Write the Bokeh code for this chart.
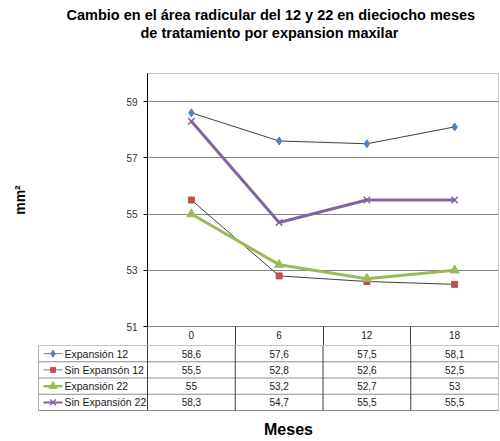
from bokeh.plotting import figure
from bokeh.models import Range1d, FixedTicker, Title
from bokeh.layouts import column
from bokeh.embed import file_html
from bokeh.resources import INLINE
from bokeh.core.properties import value

# ---------------- data ----------------
months = ["0", "6", "12", "18"]
series_names = ["Expansión 12", "Sin Expansón 12", "Expansión 22", "Sin Expansión 22"]
exp12 = [58.6, 57.6, 57.5, 58.1]
sin_exp12 = [55.5, 52.8, 52.6, 52.5]
exp22 = [55.0, 53.2, 52.7, 53.0]
sin_exp22 = [58.3, 54.7, 55.5, 55.5]
y_ticks = [51, 53, 55, 57, 59]
title_1 = "Cambio en el área radicular del 12 y 22 en dieciocho meses"
title_2 = "de tratamiento por expansion maxilar"
y_label = "mm²"
x_label = "Meses"

series = [exp12, sin_exp12, exp22, sin_exp22]
styles = [
    dict(line="#404040", lw=1, lw_leg=1, marker="diamond", color="#4F81BD", size=8, mlw=1),
    dict(line="#404040", lw=1, lw_leg=1, marker="square", color="#C0504D", size=6, mlw=1),
    dict(line="#9BBB59", lw=3, lw_leg=2.5, marker="triangle", color="#9BBB59", size=9, mlw=1),
    dict(line="#8064A2", lw=3, lw_leg=2, marker="x", color="#8064A2", size=9, mlw=1.5),
]

FONT = "Liberation Sans"
W = 499
BORDER_L = 147
BORDER_R = 1
n = len(months)
COL_W = (W - BORDER_L - BORDER_R) / n
H_TOP = 345
H_TAB = 95
ROW_H = 16.25
HEADER_H = 19
xpos = list(range(n))   # category positions on the x scale

# ---------------- chart ----------------
p = figure(width=W, height=H_TOP, x_range=Range1d(-0.5, n - 0.5),
           y_range=Range1d(51, 60),
           output_backend="svg", toolbar_location=None,
           min_border_left=BORDER_L, min_border_right=BORDER_R,
           min_border_top=73, min_border_bottom=HEADER_H)
p.background_fill_color = "white"
p.border_fill_color = "white"
p.outline_line_color = "#C8C8C8"

yax = p.yaxis[0]
yax.ticker = FixedTicker(ticks=y_ticks)
yax.axis_line_color = "black"
yax.major_tick_line_color = "black"
yax.major_tick_out = 4
yax.major_tick_in = 0
yax.minor_tick_line_color = None
yax.major_label_standoff = 6
yax.major_label_text_font = FONT
yax.major_label_text_font_size = "10px"
yax.major_label_text_color = "#333333"
yax.axis_label = y_label
yax.axis_label_text_font = FONT
yax.axis_label_text_font_size = "14px"
yax.axis_label_text_font_style = "bold"
yax.axis_label_text_color = "black"
yax.axis_label_standoff = 95

# category axis: labels at centres, separators (minor ticks) at boundaries
xax = p.xaxis[0]
xax.ticker = FixedTicker(ticks=xpos, minor_ticks=[i - 0.5 for i in xpos])
xax.major_label_overrides = {i: m for i, m in zip(xpos, months)}
xax.major_tick_out = 0
xax.major_tick_in = 0
xax.major_tick_line_color = None
xax.minor_tick_out = HEADER_H
xax.minor_tick_in = 0
xax.minor_tick_line_color = "#404040"
xax.axis_line_color = "#868686"
xax.major_label_standoff = -15
xax.major_label_text_font = FONT
xax.major_label_text_font_size = "10px"
xax.major_label_text_color = "#1A1A1A"

p.ygrid.grid_line_color = "#868686"
p.xgrid.grid_line_color = None

for vals, st in zip(series, styles):
    p.line(xpos, vals, line_color=st["line"], line_width=st["lw"])
    p.scatter(xpos, vals, marker=st["marker"], size=st["size"],
              fill_color=st["color"], line_color=st["color"], line_width=st["mlw"])

# titles (first added sits closest to the frame)
p.add_layout(Title(text=" ", text_font_size="10px", standoff=18), "above")
p.add_layout(Title(text=title_2, align="left", offset=-7, vertical_align="top",
                   standoff=0, text_font=FONT, text_font_size="14.5px",
                   text_font_style="bold", text_color="black"), "above")
p.add_layout(Title(text=title_1, align="left", offset=-81, vertical_align="top",
                   standoff=0, text_font=FONT, text_font_size="14.5px",
                   text_font_style="bold", text_color="black"), "above")

# ---------------- data table ----------------
L = (147 - 38) / COL_W
x_left = -0.5          # left edge of the value columns
tb = figure(width=W, height=H_TAB,
            x_range=Range1d(x_left - BORDER_L / COL_W, n - 0.5 + BORDER_R / COL_W),
            y_range=Range1d(1 + H_TAB / ROW_H, 1),
            x_axis_location=None, y_axis_location=None,
            output_backend="svg", toolbar_location=None,
            min_border_left=0, min_border_right=0, min_border_top=0, min_border_bottom=0)
tb.grid.visible = False
tb.outline_line_color = None
tb.background_fill_color = "white"
tb.border_fill_color = "white"

for fig in (p, tb):
    if "frame_align" in fig.properties():
        fig.frame_align = False

rows = list(range(1, len(series) + 1))
bottom = len(series) + 1
hy = rows + [bottom]
tb.segment(x0=[x_left - L] * len(hy), y0=hy, x1=[n - 0.5] * len(hy), y1=hy,
           line_color="#8C8C8C", line_width=1)
tb.segment(x0=[x_left - L], y0=[1], x1=[x_left - L], y1=[bottom], line_color="#B0B0B0")
bx = [i - 0.5 for i in xpos]
tb.segment(x0=bx, y0=[1] * n, x1=bx, y1=[bottom] * n, line_color="#404040")
tb.segment(x0=[n - 0.5], y0=[1], x1=[n - 0.5], y1=[bottom], line_color="#C0C0C0")

sx0 = x_left + (43 - 147) / COL_W
sx1 = x_left + (62 - 147) / COL_W
tx = x_left + (64 - 147) / COL_W
for r, name, vals, st in zip(rows, series_names, series, styles):
    yc = r + 0.5
    tb.line([sx0, sx1], [yc, yc], line_color=st["line"] if st["lw"] > 1 else "#7F7F7F",
            line_width=st["lw_leg"])
    tb.scatter([(sx0 + sx1) / 2], [yc], marker=st["marker"], size=st["size"] - 1,
               fill_color=st["color"], line_color=st["color"], line_width=st["mlw"])
    tb.text(x=[tx], y=[yc], text=[name], text_font=value(FONT), text_font_size="10.5px",
            text_align="left", text_baseline="middle", text_color="#1A1A1A")
    labels = [f"{v:g}".replace(".", ",") for v in vals]
    tb.text(x=xpos, y=[yc] * n, text=labels,
            text_font=value(FONT), text_font_size="10px", text_align="center",
            text_baseline="middle", text_color="#1A1A1A")

tb.text(x=[x_left + (288 - 147) / COL_W], y=[bottom + 18.5 / ROW_H], text=[x_label],
        text_font=value(FONT), text_font_size="16px", text_font_style="bold",
        text_align="center", text_baseline="middle", text_color="black")

layout = column(p, tb, spacing=0)
open("out.html", "w").write(file_html(layout, INLINE))
